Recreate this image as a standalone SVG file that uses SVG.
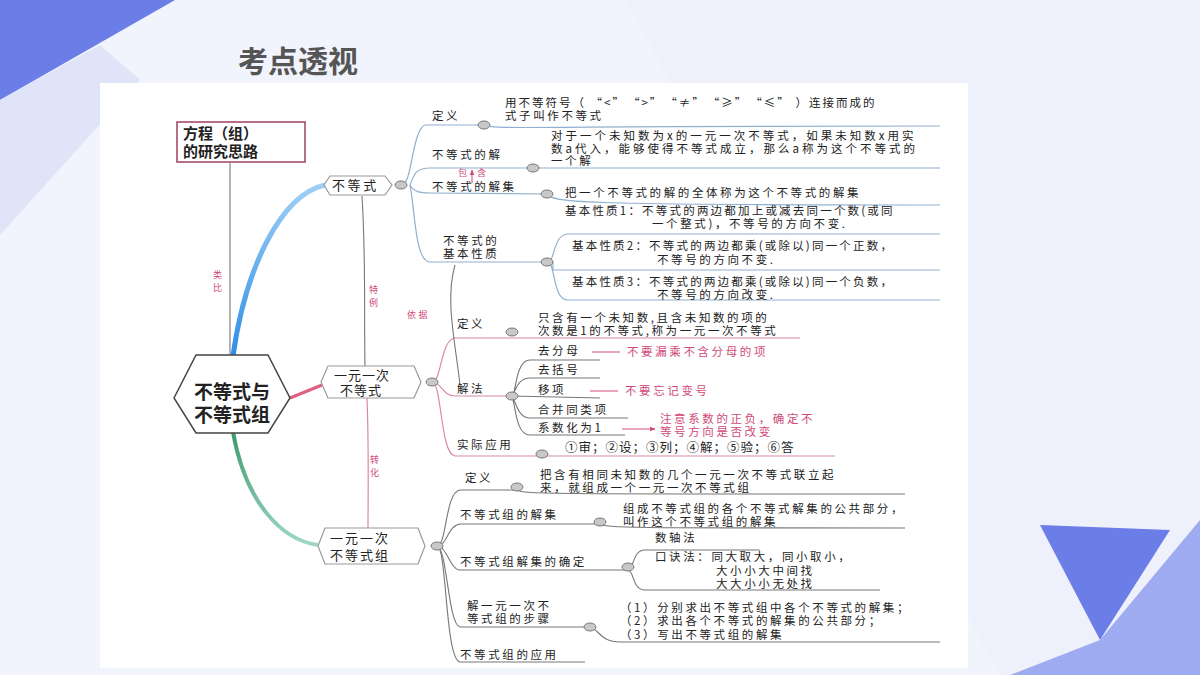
<svg xmlns="http://www.w3.org/2000/svg" width="1200" height="675" viewBox="0 0 1200 675">
<defs>
<style>
text{font-family:"Noto Sans CJK SC","Noto Sans",sans-serif;font-size:11.5px;letter-spacing:2.6px;fill:#222}
.p{fill:#d04a78}
.n{letter-spacing:0}
.bl{fill:none;stroke:#8fb0d0;stroke-width:1.2}
.pk{fill:none;stroke:#d88aa4;stroke-width:1.2}
.gy{fill:none;stroke:#777;stroke-width:1.1}
.nb{fill:#fff;stroke:#999;stroke-width:1.2}
.k{fill:#c8c8c8;stroke:#777;stroke-width:1}
</style>
<marker id="a" viewBox="0 0 10 10" refX="9" refY="5" markerWidth="6" markerHeight="6" orient="auto"><path d="M0,1 L10,5 L0,9z" fill="#d04a78"/></marker>
<linearGradient id="g1" x1="0" y1="1" x2="0" y2="0"><stop offset="0" stop-color="#2f8ee8"/><stop offset="1" stop-color="#9fd0f5"/></linearGradient>
<linearGradient id="g2" x1="0" y1="0" x2="0" y2="1"><stop offset="0" stop-color="#3c9a6a"/><stop offset="1" stop-color="#9ed7c8"/></linearGradient>
</defs>
<rect width="1200" height="675" fill="#f1f4fc"/>
<polygon points="0,0 175,0 0,100" fill="#6b7de6"/>
<polygon points="0,100 100,45 140,80 0,235" fill="#dfe4f8"/>
<polygon points="625,0 1200,0 1200,675 1000,675" fill="#eef1fb"/>
<polygon points="1040,525 1170,530 1100,640" fill="#6b7de6"/>
<polygon points="1100,640 1200,520 1200,675 1010,675" fill="#9fabf0"/>
<text x="238" y="72" class="n" style="font-size:30px;font-weight:bold;fill:#555">考点透视</text>
<rect x="100" y="83" width="868" height="585" fill="#fff"/>

<g id="connectors">
<path d="M230,355 L230,163" class="gy"/>
<path d="M233,356 C245,270 280,195 325,185" fill="none" stroke="url(#g1)" stroke-width="5"/>
<path d="M290,398 L322,385" fill="none" stroke="#e06080" stroke-width="3"/>
<path d="M233,432 C245,500 280,540 318,545" fill="none" stroke="url(#g2)" stroke-width="4"/>
<path d="M362,196 C366,260 364,320 365,366" class="gy"/>
<path d="M367,398 C369,450 368,500 368,528" class="pk"/>
<path d="M402,185 C412,185 412,130 425,125 L484,125 C494,130 520,126 940,126" class="bl"/>
<path d="M410,185 C414,175 415,168 430,168 L533,168 L940,168" class="bl"/>
<path d="M410,185 C414,192 420,193 430,193 L547,194 C555,202 560,205 940,205" class="bl"/>
<path d="M410,185 C415,210 415,262 430,262 L547,262" class="bl"/>
<path d="M547,262 C556,262 552,235 568,234 L940,234 M553,262 L553,270 L940,270 M547,262 C556,262 552,300 568,300 L940,300" class="bl"/>
<path d="M472,183 L472,170" stroke="#d04a78" stroke-width="1" marker-end="url(#a)"/>
<path d="M432,382 C442,382 440,340 455,338 L512,338 L800,338" class="pk"/>
<path d="M432,382 C442,382 442,396 455,396 L512,396" class="pk"/>
<path d="M432,382 C442,382 440,454 455,456 L542,456 L835,456" class="pk"/>
<path d="M512,396 C516,396 515,360 530,360 L600,360 M512,396 C516,390 518,378 530,378 L600,378 M512,396 L600,398 M512,396 C516,402 518,418 530,418 L628,418 M512,396 C516,408 516,435 530,435 L625,435" class="gy"/>
<path d="M460,385 C455,340 445,300 455,265" class="gy"/>
<path d="M592,352 L620,352 M590,391 L618,391 M622,429 L655,429" stroke="#d04a78" stroke-width="1" marker-end="url(#a)"/>
<path d="M437,546 C447,546 445,492 460,490 L517,490 C525,494 530,494 905,494" class="gy"/>
<path d="M437,546 C447,546 448,525 460,524 L600,524 C610,528 620,528 905,528" class="gy"/>
<path d="M437,546 C447,546 450,570 460,570 L628,570" class="gy"/>
<path d="M628,570 C634,570 632,550 645,550 L760,550 M628,570 C634,570 632,590 645,590 L880,590" class="gy"/>
<path d="M437,546 C447,546 448,625 460,627 L590,627 C600,630 600,642 620,642 L940,642" class="gy"/>
<path d="M437,546 C447,546 445,660 460,662 L585,662" class="gy"/>
</g>

<g id="n-main"><polygon points="174,398 196,355 268,355 290,398 268,433 196,433" fill="#fff" stroke="#444" stroke-width="1.5"/>
<text x="232" y="399" text-anchor="middle" class="n" style="font-size:19px;font-weight:bold">不等式与</text>
<text x="232" y="422" text-anchor="middle" class="n" style="font-size:19px;font-weight:bold">不等式组</text></g>
<g id="n-fc"><rect x="177" y="122" width="128" height="40" fill="#fff" stroke="#a04060" stroke-width="1.5"/>
<text x="183" y="139" class="n" style="font-size:15px;font-weight:bold">方程（组）</text>
<text x="183" y="157" class="n" style="font-size:15px;font-weight:bold">的研究思路</text></g>
<g id="labels-left"><text x="213" y="278" class="p" style="font-size:9px">类</text><text x="213" y="291" class="p" style="font-size:9px">比</text>
<text x="369" y="293" class="p" style="font-size:9px">特</text><text x="369" y="306" class="p" style="font-size:9px">例</text>
<text x="370" y="463" class="p" style="font-size:9px">转</text><text x="370" y="476" class="p" style="font-size:9px">化</text>
<text x="407" y="318" class="p" style="font-size:9px">依据</text></g>

<g id="n-bds"><path d="M330,176 L385,176 L392,185 L385,195 L330,195 L324,185z" class="nb"/><text x="332" y="190" style="font-size:13px">不等式</text><ellipse cx="401" cy="185" rx="6" ry="4" class="k"/></g>
<g id="n-yyc"><path d="M328,366 L414,366 L421,382 L414,398 L328,398 L321,382z" class="nb"/><text x="334" y="380" class="n" style="font-size:13px;letter-spacing:1px">一元一次</text><text x="340" y="395" class="n" style="font-size:13px;letter-spacing:1px">不等式</text><ellipse cx="432" cy="382" rx="6" ry="4" class="k"/></g>
<g id="n-yycz"><path d="M325,528 L418,528 L425,546 L418,564 L325,564 L318,546z" class="nb"/><text x="330" y="543" style="font-size:13px;letter-spacing:2px">一元一次</text><text x="330" y="560" style="font-size:13px;letter-spacing:2px">不等式组</text><ellipse cx="437" cy="546" rx="6" ry="4" class="k"/></g>

<g id="b1">
<text x="432" y="120">定义</text><ellipse cx="484" cy="125" rx="6" ry="4" class="k"/>
<text x="505" y="107" style="letter-spacing:2px">用不等符号（ “&lt;”　“&gt;”　“≠”　“≥”　“≤” ）连接而成的</text>
<text x="505" y="120">式子叫作不等式</text>
<text x="432" y="159">不等式的解</text><ellipse cx="533" cy="168" rx="6" ry="4" class="k"/>
<text x="551" y="140" style="letter-spacing:3px">对于一个未知数为x的一元一次不等式，如果未知数x用实</text>
<text x="551" y="153" style="letter-spacing:3px">数a代入，能够使得不等式成立，那么a称为这个不等式的</text>
<text x="551" y="165">一个解</text>
<text x="458" y="176" class="p" style="font-size:9px">包</text><text x="477" y="176" class="p" style="font-size:9px">含</text>
<text x="432" y="191">不等式的解集</text><ellipse cx="547" cy="194" rx="6" ry="4" class="k"/>
<text x="565" y="197">把一个不等式的解的全体称为这个不等式的解集</text>
<text x="443" y="245">不等式的</text><text x="443" y="258">基本性质</text><ellipse cx="547" cy="262" rx="6" ry="4" class="k"/>
<text x="565" y="215" style="letter-spacing:2.2px">基本性质1：不等式的两边都加上或减去同一个数(或同</text>
<text x="652" y="228">一个整式)，不等号的方向不变.</text>
<text x="572" y="250" style="letter-spacing:2.2px">基本性质2：不等式的两边都乘(或除以)同一个正数，</text>
<text x="657" y="264">不等号的方向不变.</text>
<text x="572" y="286" style="letter-spacing:2.2px">基本性质3：不等式的两边都乘(或除以)同一个负数，</text>
<text x="657" y="299">不等号的方向改变.</text>
</g>
<g id="b2">
<text x="457" y="328">定义</text><ellipse cx="512" cy="332" rx="6" ry="4" class="k"/>
<text x="538" y="322">只含有一个未知数,且含未知数的项的</text>
<text x="538" y="335">次数是1的不等式,称为一元一次不等式</text>
<text x="457" y="393">解法</text><ellipse cx="512" cy="396" rx="6" ry="4" class="k"/>
<text x="538" y="355">去分母</text><text x="627" y="356" class="p">不要漏乘不含分母的项</text>
<text x="538" y="374">去括号</text>
<text x="538" y="394">移项</text><text x="625" y="395" class="p">不要忘记变号</text>
<text x="538" y="414">合并同类项</text>
<text x="538" y="432">系数化为1</text>
<text x="660" y="423" class="p">注意系数的正负，确定不</text><text x="660" y="436" class="p">等号方向是否改变</text>
<text x="457" y="449">实际应用</text><ellipse cx="542" cy="454" rx="6" ry="4" class="k"/>
<text x="565" y="452" style="font-size:12.5px;letter-spacing:1px">①审；②设；③列；④解；⑤验；⑥答</text>
</g>
<g id="b3">
<text x="465" y="482">定义</text><ellipse cx="517" cy="487" rx="6" ry="4" class="k"/>
<text x="540" y="479">把含有相同未知数的几个一元一次不等式联立起</text>
<text x="540" y="492">来，就组成一个一元一次不等式组</text>
<text x="460" y="519">不等式组的解集</text><ellipse cx="600" cy="522" rx="6" ry="4" class="k"/>
<text x="623" y="513">组成不等式组的各个不等式解集的公共部分，</text>
<text x="623" y="526">叫作这个不等式组的解集</text>
<text x="460" y="566">不等式组解集的确定</text><ellipse cx="628" cy="567" rx="6" ry="4" class="k"/>
<text x="655" y="542">数轴法</text>
<text x="655" y="561">口诀法：同大取大，同小取小，</text>
<text x="716" y="575">大小小大中间找</text>
<text x="716" y="588">大大小小无处找</text>
<text x="467" y="610">解一元一次不</text><text x="467" y="623">等式组的步骤</text><ellipse cx="590" cy="627" rx="6" ry="4" class="k"/>
<text x="620" y="612">（1）分别求出不等式组中各个不等式的解集；</text>
<text x="620" y="625">（2）求出各个不等式的解集的公共部分；</text>
<text x="620" y="639">（3）写出不等式组的解集</text>
<text x="460" y="659">不等式组的应用</text>
</g>
</svg>
